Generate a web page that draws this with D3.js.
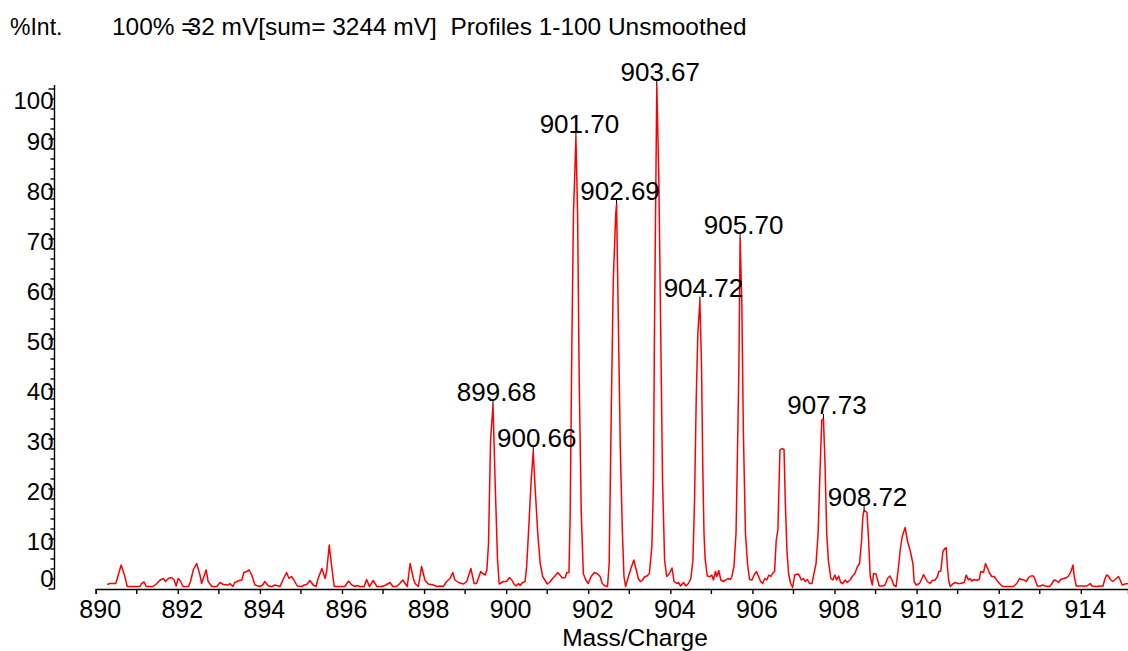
<!DOCTYPE html>
<html>
<head>
<meta charset="utf-8">
<script src="https://cdn.jsdelivr.net/npm/d3@7"></script>
<style>
  html, body { margin: 0; padding: 0; background: #fff; }
  svg { display: block; font-family: "Liberation Sans", Arial, sans-serif; }
  .axis path, .axis line { stroke: #000; stroke-width: 1.4; }
  .axis text { fill: #000; }
</style>
</head>
<body>
<svg id="chart" width="1128" height="651"></svg>
<script>
// Mass spectrum profile (m/z vs relative intensity, % of 32 mV)
const mz = [
  890.28, 890.35, 890.49, 890.62, 890.71, 890.77, 891.08, 891.12, 891.18, 891.23,
  891.40, 891.49, 891.57, 891.65, 891.70, 891.77, 891.85, 891.91, 891.96, 892.01,
  892.05, 892.13, 892.26, 892.31, 892.38, 892.46, 892.54, 892.58, 892.69, 892.74,
  892.83, 892.95, 893.03, 893.11, 893.23, 893.27, 893.34, 893.39, 893.50, 893.56,
  893.61, 893.68, 893.74, 893.80, 893.88, 894.00, 894.07, 894.12, 894.21, 894.29,
  894.37, 894.49, 894.56, 894.65, 894.71, 894.77, 894.83, 894.91, 895.02, 895.08,
  895.14, 895.22, 895.30, 895.37, 895.42, 895.51, 895.59, 895.63, 895.69, 895.75,
  895.81, 896.07, 896.16, 896.24, 896.32, 896.36, 896.44, 896.54, 896.60, 896.67,
  896.76, 896.85, 896.97, 897.07, 897.17, 897.24, 897.33, 897.41, 897.48, 897.54,
  897.59, 897.66, 897.74, 897.78, 897.86, 897.94, 898.02, 898.10, 898.23, 898.31,
  898.39, 898.47, 898.55, 898.63, 898.70, 898.75, 898.84, 898.96, 899.04, 899.14,
  899.22, 899.28, 899.38, 899.43, 899.49, 899.53, 899.57, 899.62, 899.68, 899.73,
  899.79, 899.83, 899.89, 899.93, 900.01, 900.08, 900.14, 900.19, 900.24, 900.30,
  900.34, 900.40, 900.46, 900.50, 900.56, 900.61, 900.66, 900.70, 900.77, 900.83,
  900.89, 900.95, 901.00, 901.07, 901.13, 901.19, 901.26, 901.31, 901.37, 901.44,
  901.48, 901.53, 901.56, 901.60, 901.64, 901.70, 901.74, 901.78, 901.83, 901.88,
  901.94, 902.00, 902.07, 902.15, 902.23, 902.29, 902.34, 902.41, 902.47, 902.51,
  902.56, 902.61, 902.67, 902.69, 902.73, 902.78, 902.83, 902.87, 902.91, 902.98,
  903.04, 903.11, 903.17, 903.22, 903.27, 903.32, 903.38, 903.43, 903.49, 903.55,
  903.59, 903.61, 903.64, 903.67, 903.72, 903.77, 903.81, 903.86, 903.91, 903.97,
  904.04, 904.09, 904.16, 904.20, 904.25, 904.32, 904.38, 904.44, 904.50, 904.55,
  904.59, 904.63, 904.67, 904.72, 904.76, 904.79, 904.82, 904.85, 904.90, 904.97,
  905.01, 905.05, 905.10, 905.13, 905.18, 905.23, 905.29, 905.35, 905.40, 905.46,
  905.50, 905.55, 905.60, 905.63, 905.67, 905.70, 905.74, 905.78, 905.83, 905.88,
  905.93, 905.99, 906.04, 906.10, 906.15, 906.20, 906.25, 906.30, 906.35, 906.40,
  906.45, 906.49, 906.54, 906.58, 906.62, 906.67, 906.72, 906.77, 906.80, 906.84,
  906.88, 906.93, 906.98, 907.03, 907.10, 907.14, 907.19, 907.24, 907.29, 907.34,
  907.39, 907.45, 907.50, 907.55, 907.60, 907.65, 907.69, 907.73, 907.77, 907.81,
  907.85, 907.91, 907.96, 908.01, 908.05, 908.10, 908.15, 908.20, 908.26, 908.31,
  908.38, 908.44, 908.49, 908.56, 908.61, 908.66, 908.69, 908.72, 908.79, 908.83,
  908.87, 908.92, 908.95, 909.01, 909.05, 909.09, 909.18, 909.23, 909.29, 909.35,
  909.40, 909.44, 909.50, 909.56, 909.60, 909.65, 909.72, 909.78, 909.84, 909.91,
  909.94, 909.99, 910.07, 910.13, 910.17, 910.22, 910.26, 910.33, 910.38, 910.45,
  910.51, 910.54, 910.59, 910.64, 910.69, 910.72, 910.75, 910.78, 910.82, 910.88,
  910.94, 911.00, 911.06, 911.16, 911.21, 911.26, 911.30, 911.34, 911.40, 911.47,
  911.53, 911.56, 911.63, 911.68, 911.73, 911.77, 911.83, 911.89, 911.95, 912.02,
  912.08, 912.13, 912.36, 912.44, 912.51, 912.56, 912.62, 912.67, 912.73, 912.78,
  912.85, 912.89, 912.94, 913.01, 913.07, 913.13, 913.24, 913.29, 913.35, 913.40,
  913.46, 913.51, 913.58, 913.66, 913.70, 913.76, 913.81, 913.84, 913.89, 913.98,
  914.15, 914.23, 914.27, 914.39, 914.47, 914.54, 914.59, 914.63, 914.67, 914.73,
  914.78, 914.84, 914.92, 914.96, 915.01, 915.08, 915.15
];

const intensity = [
  0.9, 1.1, 1.1, 4.8, 2.5, 0.5, 0.5, 1.1, 1.4, 0.5,
  0.5, 1.1, 1.8, 2.1, 1.5, 2.1, 2.3, 1.8, 0.6, 2.1,
  1.8, 0.5, 0.5, 1.5, 3.9, 5.1, 2.8, 1.1, 3.8, 1.5,
  0.5, 0.5, 1.3, 0.9, 0.8, 1.1, 0.5, 1.3, 1.7, 1.8,
  3.3, 3.5, 3.8, 2.8, 0.8, 0.5, 0.8, 1.5, 0.6, 0.5,
  0.8, 0.5, 1.8, 3.3, 2.1, 2.5, 1.8, 0.6, 0.5, 0.8,
  0.9, 1.7, 0.8, 0.5, 2.1, 4.1, 2.1, 3.8, 8.8, 4.5,
  0.5, 0.5, 1.6, 0.8, 0.5, 0.7, 0.5, 0.5, 1.9, 0.5,
  1.7, 0.5, 0.5, 0.8, 1.3, 0.5, 0.5, 1.1, 1.8, 1.1,
  0.5, 5.1, 2.1, 1.1, 0.5, 4.5, 1.8, 1.0, 0.8, 0.5,
  0.6, 0.5, 1.5, 2.1, 3.3, 1.8, 1.3, 1.0, 1.5, 4.1,
  1.1, 1.1, 3.5, 3.1, 2.8, 3.8, 9.1, 29.8, 36.8, 21.8,
  5.8, 1.0, 1.3, 1.5, 1.5, 2.3, 1.8, 1.0, 0.6, 1.1,
  0.7, 1.3, 1.5, 4.5, 13.8, 21.8, 27.5, 21.1, 11.1, 5.1,
  2.5, 1.7, 1.0, 1.4, 2.1, 2.6, 3.3, 2.8, 2.2, 2.3,
  3.3, 3.3, 15.1, 48.5, 75.1, 90.3, 75.1, 41.8, 15.1, 3.1,
  1.8, 1.1, 2.5, 3.3, 3.0, 2.5, 1.1, 0.6, 0.5, 5.1,
  35.1, 61.8, 75.1, 77.0, 55.1, 28.5, 11.8, 2.5, 0.5, 2.5,
  4.1, 5.8, 3.8, 2.1, 1.5, 1.8, 2.5, 2.6, 3.1, 8.5,
  21.8, 48.5, 75.1, 100.8, 81.8, 48.5, 21.8, 5.8, 2.5, 3.0,
  4.2, 1.5, 1.1, 1.3, 0.6, 1.3, 0.6, 1.1, 2.1, 5.8,
  17.8, 37.8, 51.1, 57.6, 44.5, 24.5, 11.1, 5.8, 2.6, 2.5,
  2.8, 1.8, 3.5, 2.5, 3.7, 1.8, 1.5, 1.8, 2.1, 1.9,
  2.5, 4.5, 11.1, 24.5, 44.5, 70.1, 57.8, 31.1, 11.1, 5.1,
  1.9, 1.8, 2.8, 3.5, 2.5, 1.5, 1.1, 2.1, 1.8, 2.8,
  2.5, 3.1, 3.5, 9.8, 11.8, 27.8, 28.1, 27.9, 17.8, 7.8,
  3.1, 1.1, 0.3, 2.8, 3.0, 2.8, 1.8, 2.1, 1.5, 1.9,
  1.1, 1.1, 3.1, 5.1, 11.1, 24.5, 33.8, 34.1, 24.5, 11.1,
  5.8, 2.1, 1.8, 2.8, 1.8, 2.6, 1.3, 1.1, 1.8, 1.3,
  1.8, 2.6, 3.0, 4.5, 5.1, 9.8, 14.5, 15.8, 15.3, 9.8,
  2.5, 0.8, 3.1, 3.0, 1.8, 0.6, 0.6, 0.8, 2.1, 2.6,
  1.8, 0.8, 0.5, 4.5, 7.8, 10.5, 12.3, 9.5, 7.8, 5.1,
  1.5, 0.8, 1.1, 2.1, 2.9, 2.1, 1.5, 1.1, 1.7, 1.8,
  2.5, 3.5, 3.6, 7.5, 8.1, 8.3, 4.5, 1.8, 0.5, 1.0,
  1.3, 1.1, 1.1, 1.3, 2.8, 1.8, 2.1, 1.6, 1.9, 1.7,
  2.0, 3.5, 3.3, 5.1, 4.1, 3.3, 2.5, 2.5, 1.8, 1.1,
  0.6, 0.5, 0.5, 1.1, 2.1, 1.9, 1.8, 1.5, 2.3, 2.6,
  2.6, 1.8, 0.6, 0.6, 0.8, 0.6, 0.5, 1.0, 1.8, 1.7,
  1.3, 1.9, 2.1, 2.3, 2.6, 3.5, 4.8, 2.5, 0.6, 0.6,
  0.6, 1.1, 0.6, 0.5, 0.6, 0.6, 2.1, 2.8, 2.6, 1.8,
  1.5, 1.9, 2.5, 1.8, 0.8, 1.0, 1.1
];

// Labelled peak centroids
const peakMz = [899.68, 900.66, 901.70, 902.69, 903.67, 904.72, 905.70, 907.73, 908.72];

// Axis ticks
const xMajorTicks = [890, 892, 894, 896, 898, 900, 902, 904, 906, 908, 910, 912, 914];
const xMinorTicks = [891, 893, 895, 897, 899, 901, 903, 905, 907, 909, 911, 913];
const yMajorTicks = [0, 10, 20, 30, 40, 50, 60, 70, 80, 90, 100];
const yMinorTicks = [2, 4, 6, 8, 12, 14, 16, 18, 22, 24, 26, 28, 32, 34, 36, 38,
  42, 44, 46, 48, 52, 54, 56, 58, 62, 64, 66, 68, 72, 74, 76, 78,
  82, 84, 86, 88, 92, 94, 96, 98];

const headerLeft = "%Int.";
const headerScale = "100% =";
const headerInfo = "32 mV[sum= 3244 mV]  Profiles 1-100 Unsmoothed";
const xTitle = "Mass/Charge";

const points = mz.map((m, i) => ({ mz: m, v: intensity[i] }));
const maxV = d3.max(intensity);

const svg = d3.select("#chart");

const x = d3.scaleLinear().domain([890, 915.15]).range([95.7, 1128]);
const y = d3.scaleLinear().domain([0, maxV]).range([589, 85]);

// Header line
svg.append("text").attr("x", 10).attr("y", 35)
  .attr("font-size", 23).text(headerLeft);
const hdr = svg.append("text").attr("x", 112).attr("y", 35)
  .attr("font-size", 23).attr("xml:space", "preserve");
hdr.append("tspan").text(headerScale);
hdr.append("tspan").attr("dx", -8).text(headerInfo);
// stretch the instrument line so it spans to x = 755
const hdrW = hdr.node().getComputedTextLength();
hdr.attr("font-size", 23 * 643 / hdrW);

// X axis
const gx = svg.append("g").attr("class", "axis")
  .attr("transform", `translate(0,${y(0)})`);
gx.call(d3.axisBottom(x).tickValues(xMajorTicks).tickSizeOuter(0).tickSize(5)
  .tickFormat(d3.format("d")))
  .call(g => g.selectAll("text")
    .attr("font-size", 25).attr("font-family", "Liberation Sans, Arial, sans-serif")
    .attr("dy", 0).attr("y", 29).attr("dx", 4));
gx.selectAll(".minor").data(xMinorTicks).enter().append("line")
  .attr("class", "minor")
  .attr("x1", d => x(d)).attr("x2", d => x(d))
  .attr("y1", 0).attr("y2", 5);

svg.append("text").attr("x", 635).attr("y", 646)
  .attr("text-anchor", "middle").attr("font-size", 24.5).text(xTitle);

// Y axis
const gy = svg.append("g").attr("class", "axis").attr("transform", "translate(54.5,0)");
gy.append("line").attr("x1", 0).attr("x2", 0).attr("y1", y(maxV)).attr("y2", y(0));
gy.selectAll(".major").data(yMajorTicks).enter().append("line")
  .attr("class", "major")
  .attr("x1", -6).attr("x2", 0).attr("y1", d => y(d)).attr("y2", d => y(d));
gy.selectAll(".minor").data(yMinorTicks).enter().append("line")
  .attr("class", "minor")
  .attr("x1", -4).attr("x2", 0).attr("y1", d => y(d)).attr("y2", d => y(d));
gy.selectAll(".lbl").data(yMajorTicks).enter().append("text")
  .attr("class", "lbl")
  .attr("text-anchor", "end").attr("font-size", 24)
  .attr("x", -1)
  .attr("y", d => Math.max(101, Math.min(579, y(d) + 2.7)))
  .attr("dy", "0.35em")
  .text(d => d);

// Spectrum trace
const line = d3.line().x(d => x(d.mz)).y(d => y(d.v));
svg.append("path").datum(points)
  .attr("fill", "none").attr("stroke", "#ff0000").attr("stroke-width", 1.5)
  .attr("stroke-linejoin", "round")
  .attr("d", line);

// Peak annotations
const peaks = peakMz.map(p => points.find(d => Math.abs(d.mz - p) < 1e-6));
const pg = svg.append("g");
pg.selectAll("line").data(peaks).enter().append("line")
  .attr("x1", d => x(d.mz)).attr("x2", d => x(d.mz))
  .attr("y1", d => y(d.v)).attr("y2", d => y(d.v) - 4.5)
  .attr("stroke", "#000").attr("stroke-width", 1);
pg.selectAll("text").data(peaks).enter().append("text")
  .attr("x", d => x(d.mz) + 3.5).attr("y", d => y(d.v) - 4.5)
  .attr("text-anchor", "middle").attr("font-size", 26)
  .text(d => d.mz.toFixed(2));
</script>
</body>
</html>
